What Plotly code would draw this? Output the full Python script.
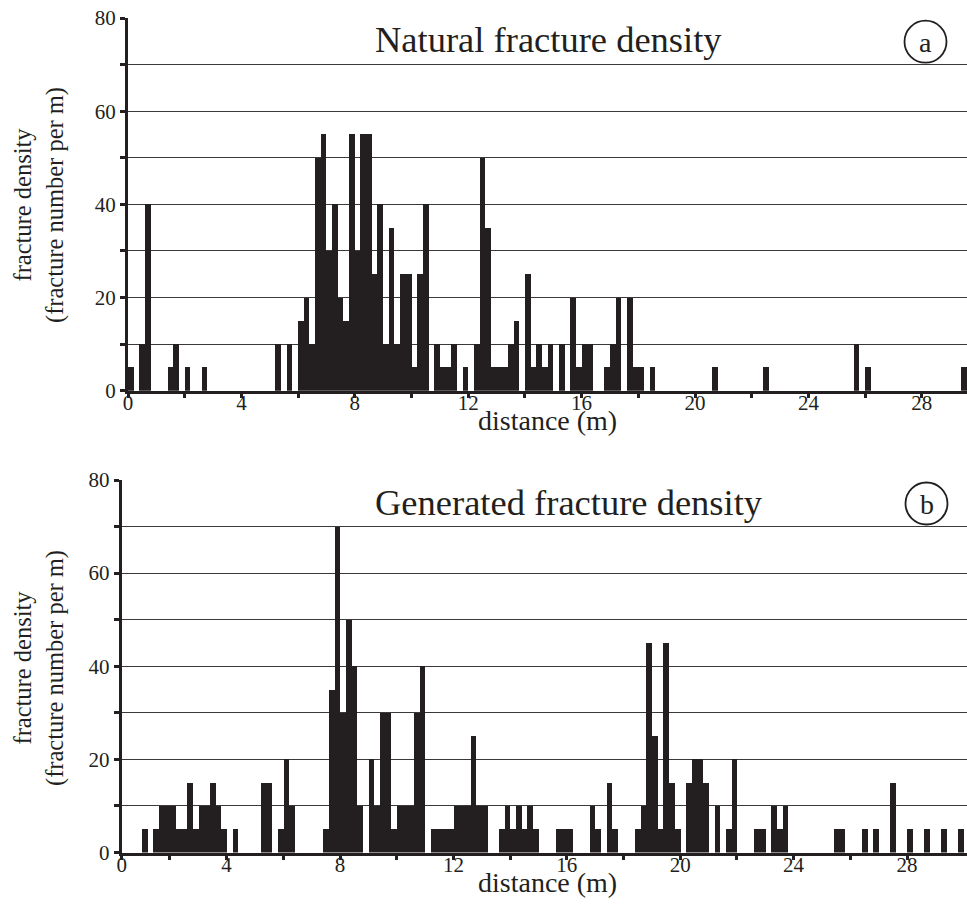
import plotly.graph_objects as go

# ---------------- data (fracture number per m, bins of 0.2 m) ----------------
bin_width = 0.2
natural_density = [
    5, 0, 10, 40, 0, 0, 0, 5, 10, 0,
    5, 0, 0, 5, 0, 0, 0, 0, 0, 0,
    0, 0, 0, 0, 0, 0, 10, 0, 10, 0,
    15, 20, 10, 50, 55, 30, 40, 20, 15, 55,
    30, 55, 55, 25, 40, 10, 35, 10, 25, 25,
    5, 25, 40, 0, 10, 5, 5, 10, 0, 5,
    0, 10, 50, 35, 5, 5, 5, 10, 15, 0,
    25, 5, 10, 5, 10, 0, 10, 0, 20, 5,
    10, 10, 0, 0, 5, 10, 20, 0, 20, 5,
    5, 0, 5, 0, 0, 0, 0, 0, 0, 0,
    0, 0, 0, 5, 0, 0, 0, 0, 0, 0,
    0, 0, 5, 0, 0, 0, 0, 0, 0, 0,
    0, 0, 0, 0, 0, 0, 0, 0, 10, 0,
    5, 0, 0, 0, 0, 0, 0, 0, 0, 0,
    0, 0, 0, 0, 0, 0, 0, 5, 0, 0,
]
generated_density = [
    0, 0, 0, 0, 0, 5, 0, 5, 10, 10,
    10, 5, 5, 15, 5, 10, 10, 15, 10, 5,
    0, 5, 0, 0, 0, 0, 15, 15, 0, 5,
    20, 10, 0, 0, 0, 0, 0, 5, 35, 70,
    30, 50, 40, 10, 0, 20, 10, 30, 30, 5,
    10, 10, 10, 30, 40, 0, 5, 5, 5, 5,
    10, 10, 10, 25, 10, 10, 0, 0, 5, 10,
    5, 10, 5, 10, 5, 0, 0, 0, 5, 5,
    5, 0, 0, 0, 10, 5, 0, 15, 5, 0,
    0, 0, 5, 10, 45, 25, 5, 45, 15, 5,
    0, 15, 20, 20, 15, 0, 10, 0, 5, 20,
    0, 0, 0, 5, 5, 0, 10, 5, 10, 0,
    0, 0, 0, 0, 0, 0, 0, 5, 5, 0,
    0, 0, 5, 0, 5, 0, 0, 15, 0, 0,
    5, 0, 0, 5, 0, 0, 5, 0, 0, 5,
]
panel_titles = ["Natural fracture density", "Generated fracture density"]
panel_letters = ["a", "b"]
y_tick_values = [0, 10, 20, 30, 40, 50, 60, 70, 80]
y_tick_labels = ["0", "", "20", "", "40", "", "60", "", "80"]
x_tick_values = [2, 4, 6, 8, 10, 12, 14, 16, 18, 20, 22, 24, 26, 28]
x_tick_labels = ["", "4", "", "8", "", "12", "", "16", "", "20", "", "24", "", "28"]
y_title = "fracture density<br>(fracture number per m)"
x_title = "distance (m)"

# ---------------- layout constants ----------------
W, H = 967, 919
BAR = "#231f20"
FONT = "Liberation Serif"
PXM = 28.35  # px per metre

def px(xp):
    return xp / W

def py(yp):
    return 1 - yp / H

centers_nat = [bin_width * (i + 0.5) for i in range(len(natural_density))]
centers_gen = [bin_width * (i + 0.5) for i in range(len(generated_density))]

fig = go.Figure()
fig.add_trace(go.Bar(x=centers_nat, y=natural_density, width=bin_width,
                     marker=dict(color=BAR, line=dict(width=0)),
                     xaxis="x", yaxis="y", showlegend=False, hoverinfo="x+y"))
fig.add_trace(go.Bar(x=centers_gen, y=generated_density, width=bin_width,
                     marker=dict(color=BAR, line=dict(width=0)),
                     xaxis="x2", yaxis="y2", showlegend=False, hoverinfo="x+y"))

top_left = 128.0
bot_left = 121.7
bot_start = 0.3

common_x = dict(showgrid=False, zeroline=False, showline=True, linewidth=3,
                linecolor=BAR, ticks="outside", ticklen=4, tickwidth=2.5,
                tickcolor=BAR, tickfont=dict(family=FONT, size=21, color=BAR),
                ticklabelstandoff=-13,
                fixedrange=True, automargin=False)
common_y = dict(range=[0, 80], showgrid=True, gridcolor="#3a3a3a", gridwidth=1.3,
                zeroline=False, showline=True, linewidth=3, linecolor=BAR,
                ticks="outside", ticklen=5, tickwidth=2.5, tickcolor=BAR,
                tickvals=y_tick_values, ticktext=y_tick_labels,
                tickfont=dict(family=FONT, size=21, color=BAR), fixedrange=True,
                automargin=False)

fig.update_layout(
    width=W, height=H, autosize=False,
    margin=dict(l=0, r=0, t=0, b=0, pad=0, autoexpand=False),
    paper_bgcolor="white", plot_bgcolor="white",
    bargap=0, showlegend=False,
    xaxis=dict(domain=[px(top_left), 1], range=[0, (W - top_left) / PXM],
               tickvals=[0] + x_tick_values, ticktext=["0"] + x_tick_labels,
               anchor="y", **common_x),
    yaxis=dict(domain=[py(390.7), py(18)], anchor="x", **common_y),
    xaxis2=dict(domain=[px(bot_left), 1],
                range=[bot_start, bot_start + (W - bot_left) / PXM],
                tickvals=[bot_start] + x_tick_values, ticktext=["0"] + x_tick_labels,
                anchor="y2", **common_x),
    yaxis2=dict(domain=[py(852.5), py(480)], anchor="x2", **common_y),
)

annotations = []
shapes = []
title_pos = [(548.5, 40), (569, 502)]
circle_pos = [(925.5, 41.7), (926.5, 503.5)]
ytitle_pos = [(39, 205), (39, 668)]
xtitle_pos = [(547, 420), (547, 882)]
for i in range(2):
    tx, ty = title_pos[i]
    annotations.append(dict(text=panel_titles[i], x=px(tx), y=py(ty), xref="paper", yref="paper",
                            showarrow=False, xanchor="center", yanchor="middle",
                            font=dict(family=FONT, size=36.5, color=BAR)))
    cx, cy = circle_pos[i]
    r = 21
    shapes.append(dict(type="circle", xref="paper", yref="paper",
                       x0=px(cx - r), x1=px(cx + r), y0=py(cy + r), y1=py(cy - r),
                       line=dict(color=BAR, width=1.8)))
    annotations.append(dict(text=panel_letters[i], x=px(cx), y=py(cy + 1), xref="paper", yref="paper",
                            showarrow=False, xanchor="center", yanchor="middle",
                            font=dict(family=FONT, size=28, color=BAR)))
    yx, yy = ytitle_pos[i]
    annotations.append(dict(text=y_title, x=px(yx), y=py(yy), xref="paper", yref="paper",
                            showarrow=False, xanchor="center", yanchor="middle", textangle=-90,
                            font=dict(family=FONT, size=24.5, color=BAR)))
    xx, xy = xtitle_pos[i]
    annotations.append(dict(text=x_title, x=px(xx), y=py(xy), xref="paper", yref="paper",
                            showarrow=False, xanchor="center", yanchor="middle",
                            font=dict(family=FONT, size=28, color=BAR)))

fig.update_layout(annotations=annotations, shapes=shapes)
fig.write_html("out.html", config={"responsive": False, "displayModeBar": False},
               post_script="document.body.style.margin='0';document.body.style.padding='0';")
